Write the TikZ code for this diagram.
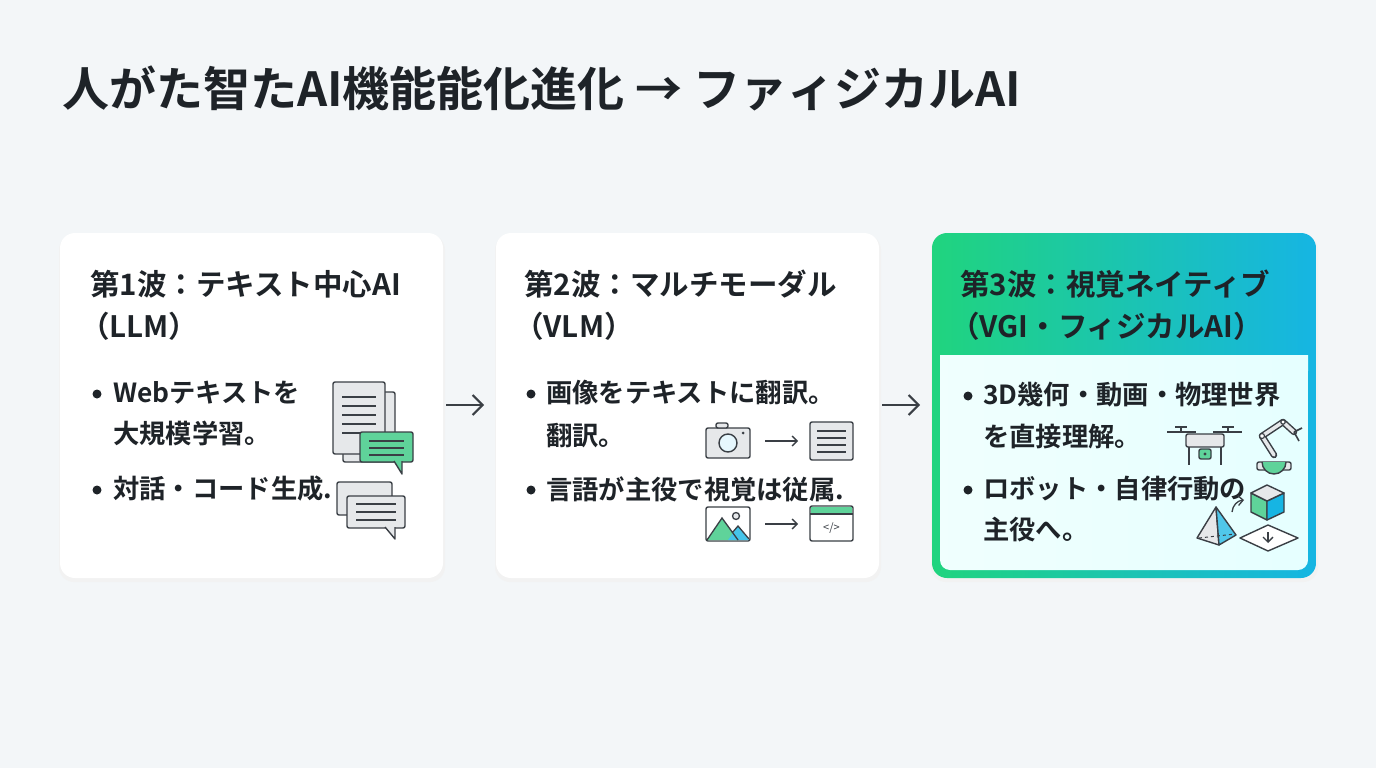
\documentclass[tikz,border=0pt]{standalone}
\usepackage{fontspec}
\setmainfont{Noto Sans CJK JP}[BoldFont={Noto Sans CJK JP Bold}]
\usetikzlibrary{arrows.meta}
\definecolor{ink}{HTML}{1E2328}
\definecolor{icg}{HTML}{E6E8EA}
\definecolor{icl}{HTML}{3A3F45}
\definecolor{gr}{HTML}{5FD39A}
\definecolor{gA}{HTML}{20D47E}
\definecolor{gB}{HTML}{16B5E3}
\definecolor{bg}{HTML}{F3F6F8}
\begin{document}
\begin{tikzpicture}[x=1pt,y=-1pt,
 txt/.style={anchor=west,font=\bfseries\fontsize{29.5}{34}\selectfont,text=ink,inner sep=0},
 btx/.style={anchor=west,font=\bfseries\fontsize{26.3}{32}\selectfont,text=ink,inner sep=0},
 dot/.style={circle,fill=ink,inner sep=0,minimum size=9},
 ic/.style={draw=icl,line width=1.4,fill=icg,rounded corners=2},
 con/.style={-{Straight Barb[length=10,width=20,line width=2]},line width=2,draw=icl},
 sar/.style={-{Straight Barb[length=5,width=10]},line width=1.3,draw=icl}]
\fill[bg] (0,0) rectangle (1376,768);
\useasboundingbox (0,0) rectangle (1376,768);
\node[anchor=west,inner sep=0,font=\bfseries\fontsize{47}{52}\selectfont,text=ink] (title) at (62,88) {人がた智たAI機能能化進化 → ファィジカルAI};
% cards
\foreach \x/\n in {60/c1,496/c2}{
 \fill[black!5,rounded corners=15] (\x-1,235) rectangle (\x+385,582);
 \fill[white,rounded corners=15] (\x,233) rectangle (\x+383,578);
 \coordinate (\n w) at (\x,405); \coordinate (\n e) at (\x+383,405);}
\fill[black!5,rounded corners=15] (931,235) rectangle (1318,582);
\shade[left color=gA,right color=gB,rounded corners=15] (932,233) rectangle (1316,578);
\shade[left color=green!8!cyan!6!white,right color=cyan!10!white,rounded corners=10] (940,355) rectangle (1308,570);
\fill[left color=green!8!cyan!6!white,right color=cyan!10!white] (940,355) rectangle (1308,370);
\coordinate (c3w) at (932,405);
\draw[con] (c1e)++(3,0) -- ([xshift=-12]c2w);
\draw[con] (c2e)++(3,0) -- ([xshift=-12]c3w);
% card1 text
\node[txt] (h1a) at (90,284) {第1波：テキスト中心AI};
\node[txt] (h1b) at (80,326) {（LLM）};
\node[dot] (d1a) at (97,394) {}; \node[btx] (b1a) at (113,393) {Webテキストを};
\node[btx] (b1b) at (113,433) {大規模学習。};
\node[dot] (d1c) at (97,490) {}; \node[btx] (b1c) at (113,489) {対話・コード生成.};
% card2 text
\node[txt] (h2a) at (524,284) {第2波：マルチモーダル};
\node[txt] (h2b) at (514,326) {（VLM）};
\node[dot] (d2a) at (531,394) {}; \node[btx] (b2a) at (546,393) {画像をテキストに翻訳。};
\node[btx] (b2b) at (546,436) {翻訳。};
\node[dot] (d2c) at (531,490) {}; \node[btx] (b2c) at (546,489) {言語が主役で視覚は従属.};
% card3 text
\node[txt] (h3a) at (960,284) {第3波：視覚ネイティブ};
\node[txt] (h3b) at (950,326) {（VGI・フィジカルAI）};
\node[dot] (d3a) at (968,396) {}; \node[btx] (b3a) at (983,395) {3D幾何・動画・物理世界};
\node[btx] (b3b) at (983,436) {を直接理解。};
\node[dot] (d3c) at (968,490) {}; \node[btx] (b3c) at (983,489) {ロボット・自律行動の};
\node[btx] (b3d) at (983,530) {主役へ。};
% card1 icons
\draw[ic] (343,392) rectangle (395,462);
\draw[ic] (333,382) rectangle (385,454);
\foreach \y in {397,406,415,424,433} \draw[icl,line width=1.3] (342,\y) -- (376,\y);
\draw[ic,fill=gr] (360,432) rectangle (413,462);
\draw[icl,line width=1.4,fill=gr,line join=round] (394,461) -- (402,474) -- (402,461);
\foreach \y in {441,448,455} \draw[icl,line width=1.3] (369,\y) -- (404,\y);
\draw[ic] (337,482) rectangle (392,515);
\draw[ic] (347,496) rectangle (405,528);
\draw[icl,line width=1.4,fill=icg,line join=round] (385,527) -- (395,539) -- (395,527);
\foreach \y in {504,512,520} \draw[icl,line width=1.3] (356,\y) -- (396,\y);
% card2 icons
\draw[ic] (706,428) rectangle (750,458); \draw[ic] (716,423) rectangle (728,428);
\draw[icl,line width=1.4,fill=cyan!10] (728,443) circle (9); \fill[icl] (743,433) circle (1.5);
\draw[sar] (765,441) -- (798,441);
\draw[ic] (810,422) rectangle (853,460);
\foreach \y in {431,438,445,452} \draw[icl,line width=1.3] (817,\y) -- (846,\y);
\draw[ic,fill=white] (706,507) rectangle (750,541);
\fill[gr] (707,540) -- (722,518) -- (738,540) -- cycle;
\fill[gB!80] (728,540) -- (738,526) -- (749,540) -- cycle;
\draw[icl,line width=1.3] (707,540) -- (722,518) -- (738,540) (732,533) -- (738,526) -- (749,539);
\draw[icl,line width=1.3,fill=icg] (736,516) circle (3.5);
\draw[sar] (765,524) -- (798,524);
\draw[ic,fill=white] (810,506) rectangle (853,541);
\fill[gr] (811,507) rectangle (852,514); \draw[icl,line width=1.3] (810,514) -- (853,514);
\node[font=\fontsize{11}{11}\selectfont,text=icl,inner sep=0] (code) at (831.5,528) {</>};
% card3 icons: drone
\draw[icl,line width=1.6] (1167,432) -- (1196,432) (1213,432) -- (1242,432);
\draw[icl,line width=1.6] (1181,427) -- (1181,432) (1228,427) -- (1228,432) (1175,427)--(1187,427) (1222,427)--(1234,427);
\draw[ic,fill=icg] (1186,434) rectangle (1224,447);
\draw[icl,line width=1.4] (1189,447) -- (1189,465) (1221,447) -- (1221,465);
\draw[ic,fill=gr] (1199,449) rectangle (1211,459); \fill[icl] (1205,454) circle (1.6);
% robot arm
\draw[icl,line width=6.5,line cap=round,line join=round] (1274,455) -- (1262,436) -- (1283,422) -- (1294,432);
\draw[icg,line width=3.5,line cap=round,line join=round] (1274,455) -- (1262,436) -- (1283,422) -- (1294,432);
\draw[icl,line width=1.6] (1294,432) -- (1302,428) (1294,432) -- (1299,441);
\draw[icl,line width=1.2,fill=white] (1262,436) circle (2.5) (1283,422) circle (2.2);
\draw[ic,fill=icg] (1257,462) rectangle (1291,470);
\draw[icl,line width=1.4,fill=gr] (1262,462) arc (180:0:12);
% pyramid
\draw[icl,line width=1.4,fill=icg,line join=round] (1216,507) -- (1197,538) -- (1219,545) -- cycle;
\draw[icl,line width=1.4,fill=gB!75,line join=round] (1216,507) -- (1219,545) -- (1236,535) -- cycle;
\draw[icl,line width=1,dashed] (1199,538) -- (1235,534);
\draw[sar] (1232,512) to[bend left=40] (1244,500);
% plane and cube
\draw[icl,line width=1.4,fill=white,line join=round] (1240,538) -- (1268,525) -- (1298,538) -- (1268,551) -- cycle;
\draw[sar] (1268,532) -- (1268,543);
\draw[icl,line width=1.4,fill=gr,line join=round] (1251,493) -- (1267,501) -- (1267,520) -- (1251,512) -- cycle;
\draw[icl,line width=1.4,fill=gB,line join=round] (1267,501) -- (1284,493) -- (1284,512) -- (1267,520) -- cycle;
\draw[icl,line width=1.4,fill=icg,line join=round] (1251,493) -- (1267,485) -- (1284,493) -- (1267,501) -- cycle;
\end{tikzpicture}
\end{document}
